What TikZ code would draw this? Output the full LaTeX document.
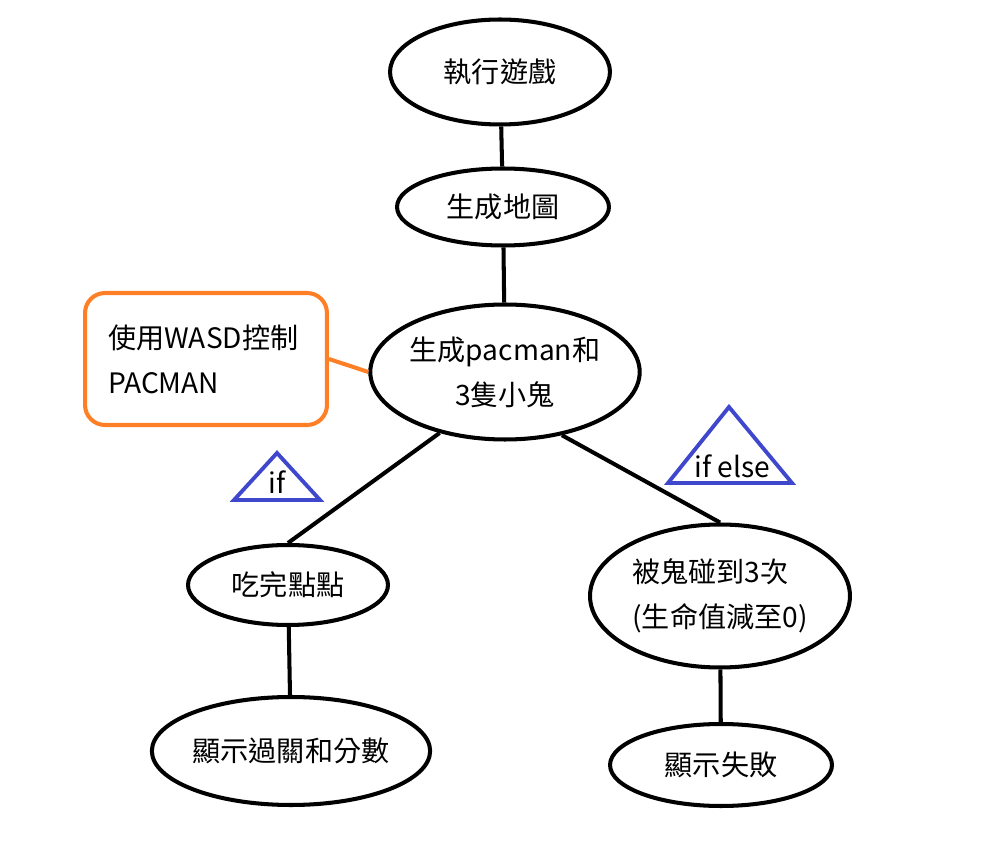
\documentclass[tikz,border=0pt]{standalone}
\usepackage{fontspec}
\setmainfont{Noto Sans CJK TC}
\usetikzlibrary{shapes.geometric}

\definecolor{noteorange}{RGB}{255,127,39}
\definecolor{condblue}{RGB}{63,72,204}

\tikzset{
  oval/.style={draw, ellipse, line width=2.3pt, inner sep=0pt, align=center,
    font=\fontsize{16}{25.5}\selectfont},
  link/.style={line width=2.3pt},
  note/.style={draw=noteorange, line width=2.3pt, rounded corners=0.4cm,
    minimum width=4.84cm, minimum height=2.64cm, inner xsep=0.46cm,
    text width=3.92cm, align=left, font=\fontsize{16}{25.5}\selectfont},
  cond/.style={draw=condblue, line width=2.2pt, line join=miter},
  condtext/.style={font=\fontsize{16}{20}\selectfont, inner sep=0pt}
}

\begin{document}
\begin{tikzpicture}[x=0.02cm, y=-0.02cm]
    \useasboundingbox (0,0) rectangle (988,861);
    \node[oval, minimum width=4.4cm, minimum height=2.1cm] (run) at (500,72) {執行遊戲};
    \node[oval, minimum width=4.24cm, minimum height=1.54cm] (map) at (503,207) {生成地圖};
    \node[oval, minimum width=5.32cm, minimum height=2.7cm] (spawn) at (505,372) {生成pacman和\\3隻小鬼};
    \node[oval, minimum width=4.0cm, minimum height=1.6cm] (eat) at (288,585) {吃完點點};
    \node[oval, minimum width=5.52cm, minimum height=2.16cm] (win) at (291,751) {顯示過關和分數};
    \node[oval, minimum width=5.2cm, minimum height=2.86cm, align=left] (hit) at (720,596) {被鬼碰到3次\\(生命值減至0)};
    \node[oval, minimum width=4.44cm, minimum height=1.64cm] (lose) at (721,765) {顯示失敗};
    \node[note] (keys) at (206,359) {使用WASD控制\\PACMAN};

    \draw[link] (run) -- (map);
    \draw[link] (map) -- (spawn);
    \draw[link] (spawn.223) -- (eat.north);
    \draw[link] (spawn.312) -- (hit.north);
    \draw[link] (eat) -- (win);
    \draw[link] (hit) -- (lose);
    \draw[draw=noteorange, line width=2.3pt] (keys.east) -- (spawn.west);

    % if / if else markers
    \draw[cond] (234,500) -- (277,453) -- (320,500) -- cycle;
    \node[condtext] (iftag) at (277,482) {if};
    \draw[cond] (668,483) -- (729,407) -- (792,483) -- cycle;
    \node[condtext] (elsetag) at (732,466) {if else};
\end{tikzpicture}
\end{document}
